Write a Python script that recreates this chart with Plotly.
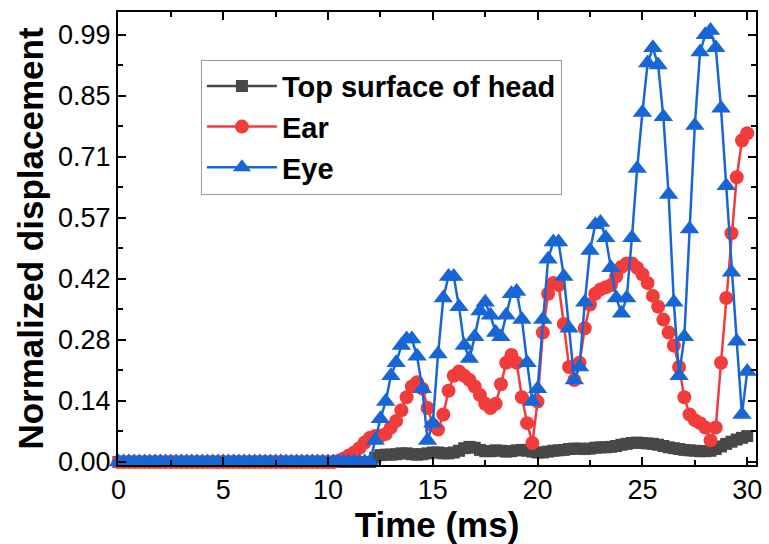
import plotly.graph_objects as go

# time axis (ms), 0.25 ms steps from 0 to 30
time_ms = [i * 0.25 for i in range(121)]

# Top surface of head (0 .. 12.0 flat, then values from 12.25 to 30.0)
top_head = [0.0] * 49 + [
    0.010, 0.016, 0.017, 0.017, 0.018, 0.020, 0.020, 0.018, 0.017, 0.018,
    0.020, 0.022, 0.022, 0.020, 0.020, 0.022, 0.026, 0.032, 0.035, 0.033,
    0.028, 0.025, 0.025, 0.027, 0.026, 0.024, 0.025, 0.027, 0.028, 0.026,
    0.024, 0.022, 0.022, 0.024, 0.026, 0.027, 0.028, 0.030, 0.031, 0.031,
    0.030, 0.031, 0.033, 0.034, 0.034, 0.035, 0.037, 0.040, 0.042, 0.044,
    0.045, 0.044, 0.043, 0.042, 0.040, 0.037, 0.034, 0.032, 0.030, 0.028,
    0.027, 0.026, 0.025, 0.025, 0.026, 0.030, 0.036, 0.042, 0.047, 0.052,
    0.056, 0.060]

# Ear (0 .. 10.25 flat, then values from 10.5 to 30.0)
ear = [0.0] * 42 + [
    0.003, 0.008, 0.015, 0.022, 0.032, 0.045, 0.056, 0.060, 0.060, 0.065,
    0.080, 0.095, 0.120, 0.150, 0.175, 0.185, 0.170, 0.125, 0.085, 0.075,
    0.110, 0.165, 0.200, 0.210, 0.200, 0.190, 0.175, 0.155, 0.135, 0.125,
    0.135, 0.180, 0.230, 0.248, 0.230, 0.150, 0.090, 0.044, 0.140, 0.300,
    0.390, 0.415, 0.410, 0.320, 0.220, 0.190, 0.230, 0.310, 0.365, 0.390,
    0.400, 0.405, 0.410, 0.430, 0.452, 0.460, 0.460, 0.450, 0.435, 0.415,
    0.385, 0.360, 0.330, 0.300, 0.270, 0.220, 0.150, 0.110, 0.097, 0.090,
    0.080, 0.050, 0.080, 0.230, 0.380, 0.530, 0.660, 0.745, 0.762]

# Eye (0 .. 12.0 flat, then values from 12.25 to 30.0)
eye = [0.0] * 49 + [
    0.050, 0.100, 0.140, 0.200, 0.230, 0.270, 0.285, 0.285, 0.245, 0.170,
    0.050, 0.090, 0.250, 0.380, 0.430, 0.430, 0.360, 0.270, 0.240, 0.290,
    0.350, 0.370, 0.340, 0.300, 0.290, 0.340, 0.390, 0.395, 0.330, 0.230,
    0.140, 0.170, 0.330, 0.470, 0.510, 0.510, 0.430, 0.310, 0.190, 0.220,
    0.370, 0.490, 0.550, 0.555, 0.520, 0.450, 0.380, 0.345, 0.380, 0.520,
    0.680, 0.810, 0.925, 0.960, 0.920, 0.800, 0.620, 0.370, 0.200, 0.290,
    0.540, 0.780, 0.950, 0.990, 1.000, 0.960, 0.820, 0.640, 0.440, 0.280,
    0.110, 0.210]

y_tick_vals = [k * 0.99 / 7 for k in range(8)]
y_tick_text = ["0.00", "0.14", "0.28", "0.42", "0.57", "0.71", "0.85", "0.99"]
x_tick_vals = [0, 5, 10, 15, 20, 25, 30]

series = [
    ("Top surface of head", top_head, "#484848", "square", 12),
    ("Ear", ear, "#f23c3c", "circle", 14),
    ("Eye", eye, "#1866d6", "triangle-up", 17),
]

fig = go.Figure()
for name, vals, color, sym, size in series:
    fig.add_trace(go.Scatter(
        x=time_ms, y=vals, name=name, mode="lines+markers",
        line=dict(color=color, width=2.5),
        marker=dict(symbol=sym, size=size, color=color, line=dict(width=0)),
        cliponaxis=False,
    ))

font_family = "Liberation Sans, Arial, sans-serif"
axis_common = dict(
    showline=True, linecolor="black", linewidth=2, mirror="allticks",
    ticks="inside", ticklen=8, tickwidth=1.5, tickcolor="black",
    showgrid=False, zeroline=False,
    tickfont=dict(family=font_family, size=27, color="black"),
)

fig.update_layout(
    width=769, height=544,
    margin=dict(l=118, r=7, t=12, b=79),
    paper_bgcolor="white", plot_bgcolor="white",
    font=dict(family=font_family, color="black"),
    showlegend=True,
    legend=dict(
        x=0.13, y=0.895, xanchor="left", yanchor="top",
        bgcolor="white", bordercolor="#9a9a9a", borderwidth=1,
        font=dict(family=font_family, size=29, color="black", weight="bold"),
        itemwidth=70, tracegroupgap=0,
    ),
)
fig.update_xaxes(
    range=[-0.02, 30.42], tickvals=x_tick_vals,
    minor=dict(ticks="inside", ticklen=5, tickcolor="black", dtick=2.5, tick0=0),
    title=dict(text="Time (ms)", font=dict(family=font_family, size=35, weight="bold"), standoff=2),
    **axis_common,
)
fig.update_yaxes(
    range=[-0.007, 1.043], tickvals=y_tick_vals, ticktext=y_tick_text,
    minor=dict(ticks="inside", ticklen=5, tickcolor="black",
               tickvals=[(k + 0.5) * 0.99 / 7 for k in range(7)]),
    title=dict(text="Normalized displacement", font=dict(family=font_family, size=35, weight="bold"), standoff=4),
    **axis_common,
)

fig.write_html("out.html")
